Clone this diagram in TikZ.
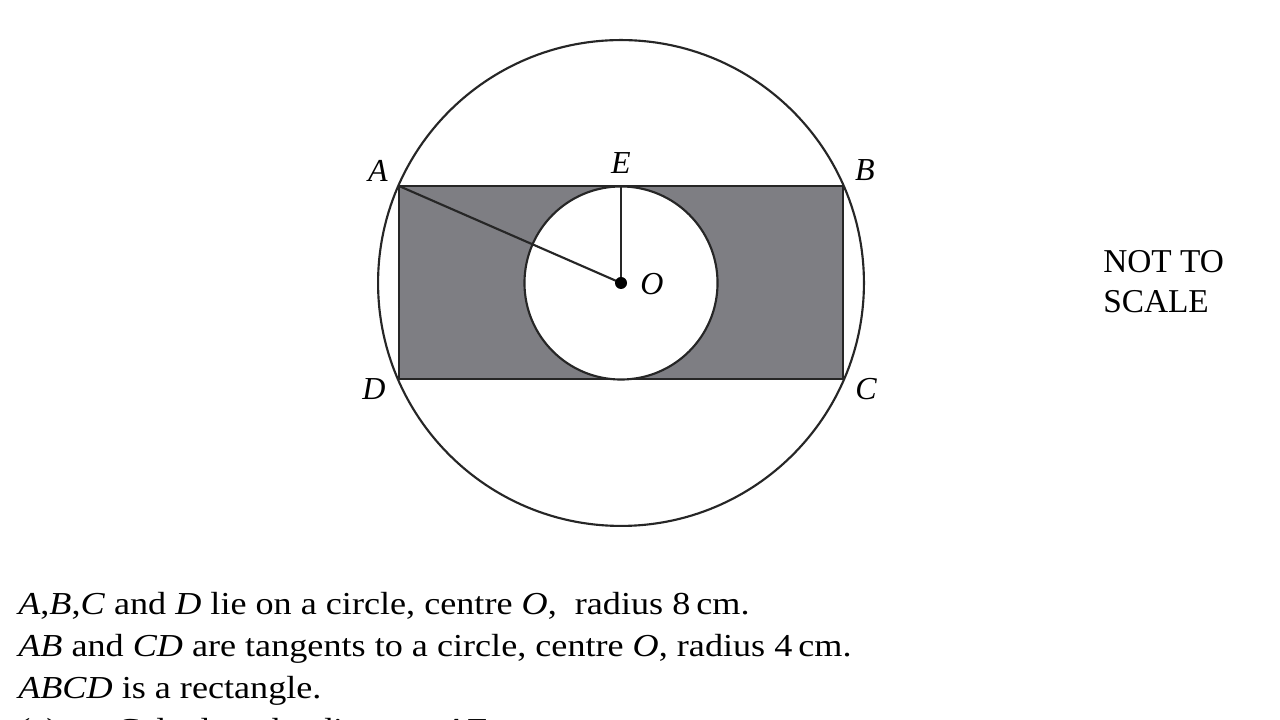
\documentclass[tikz,border=0pt]{standalone}
\usepackage{fontspec}
\setmainfont{Liberation Serif}
\begin{document}
\begin{tikzpicture}[x=0.75pt,y=0.75pt,
  greyfill/.style={fill={rgb,255:red,126;green,126;blue,131}},
  ln/.style={line width=1.6pt,draw=black!85},
  lbl/.style={font=\fontsize{24}{28}\selectfont\itshape,inner sep=0pt},
  txt/.style={font=\fontsize{24}{28}\selectfont,inner sep=0pt,anchor=base west,transform shape,xscale=1.13}]
\useasboundingbox (0,0) rectangle (1280,720);
\clip (0,0) rectangle (1280,720);
\fill[white] (0,0) rectangle (1280,720);
\coordinate (O) at (621,437);
\coordinate (A) at (399,534);
\coordinate (B) at (843,534);
\coordinate (C) at (843,341);
\coordinate (D) at (399,341);
\coordinate (E) at (621,534);
% shaded rectangle
\path[greyfill,ln] (A) -- (B) -- (C) -- (D) -- cycle;
% inner circle
\path[fill=white,ln] (O) circle[radius=72.4pt];
% outer circle
\draw[ln] (O) circle[radius=182.2pt];
% radii
\draw[ln] (A) -- (O);
\draw[ln] (E) -- (O);
\fill[black] (O) circle[radius=4.5pt];
% labels
\node[lbl] (lA) at (378,549) {A};
\node[lbl] (lE) at (621,557) {E};
\node[lbl] (lB) at (865,550) {B};
\node[lbl] (lO) at (652,436) {O};
\node[lbl] (lD) at (374,331) {D};
\node[lbl] (lC) at (866,331) {C};
% not to scale
\node[font=\fontsize{25}{30}\selectfont,align=left,anchor=north west,inner sep=0pt] (nts) at (1103,470) {NOT TO\\[0pt]SCALE};
% text
\node[txt] (t1) at (18,105) {\textit{A},\textit{B},\textit{C} and \textit{D} lie on a circle, centre \textit{O},\ \ radius 8\,cm.};
\node[txt] (t2) at (18,63) {\textit{AB} and \textit{CD} are tangents to a circle, centre \textit{O}, radius 4\,cm.};
\node[txt] (t3) at (18,21) {\textit{ABCD} is a rectangle.};
\node[txt] (t4) at (18,-21) {(a)\hspace{1.6em}Calculate the distance \textit{AE}.};
\end{tikzpicture}
\end{document}
